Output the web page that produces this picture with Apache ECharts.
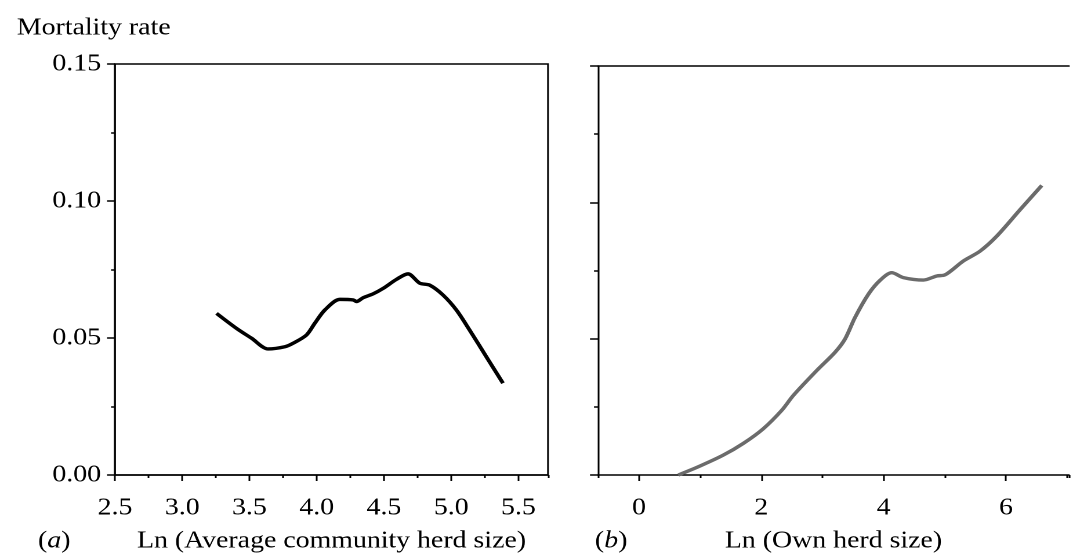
<!DOCTYPE html>
<html>
<head>
<meta charset="utf-8">
<script src="https://cdn.jsdelivr.net/npm/echarts@6/dist/echarts.min.js"></script>
<style>
html,body{margin:0;padding:0;background:#fff;overflow:hidden;}
#wrap{width:1071px;height:559px;overflow:hidden;}
#chart{height:559px;transform-origin:0 0;}
</style>
</head>
<body>
<div id="wrap"><div id="chart"></div></div>
<script>
// Panel (a): Ln(Average community herd size) vs mortality rate
var communityX = [3.255,3.404,3.516,3.639,3.763,3.825,3.924,3.986,4.060,4.172,4.271,4.296,4.345,4.419,4.494,4.593,4.679,4.766,4.840,4.939,5.039,5.137,5.261,5.385];
var communityY = [0.0590,0.0535,0.0499,0.0460,0.0468,0.0481,0.0511,0.0554,0.0602,0.0641,0.0639,0.0633,0.0647,0.0661,0.0681,0.0714,0.0734,0.0700,0.0693,0.0657,0.0602,0.0529,0.0432,0.0335];
// Panel (b): Ln(Own herd size) vs mortality rate
var ownX = [0.643,0.998,1.379,1.706,2.033,2.333,2.524,2.905,3.205,3.369,3.532,3.750,3.941,4.132,4.322,4.649,4.868,5.004,5.304,5.576,5.849,6.230,6.585];
var ownY = [0.0000,0.0033,0.0073,0.0116,0.0170,0.0237,0.0292,0.0383,0.0450,0.0499,0.0578,0.0663,0.0714,0.0742,0.0724,0.0715,0.0730,0.0734,0.0785,0.0821,0.0876,0.0973,0.1062];
var titleY = 'Mortality rate';
var nameA = 'Ln (Average community herd size)';
var nameB = 'Ln (Own herd size)';

function pairs(xs, ys){ return xs.map(function(x,i){return [x, ys[i]];}); }

// the reference figure is horizontally stretched; draw narrower and stretch
var S = 1.16;
function X(px){ return px / S; }
var el = document.getElementById('chart');
el.style.width = (1071 / S) + 'px';
el.style.transform = 'scaleX(' + S + ')';

var FONT = 'Liberation Serif';
var FS = 24;
var lineStyle = {color:'#000', width:1.5};

var chart = echarts.init(el, null, {renderer:'canvas', devicePixelRatio:2});
chart.setOption({
  backgroundColor:'#fff',
  animation:false,
  textStyle:{fontFamily:FONT},
  title:{text:titleY, left:X(11), top:11, textStyle:{fontFamily:FONT, fontSize:FS, fontWeight:'normal', color:'#000'}},
  graphic:[
    {type:'text', left:X(38), top:529, style:{text:'{n|(}{i|a}{n|)}', rich:{n:{fontFamily:FONT,fontSize:FS,fill:'#000'}, i:{fontFamily:FONT,fontSize:FS,fontStyle:'italic',fill:'#000'}}}},
    {type:'text', left:X(595), top:529, style:{text:'{n|(}{i|b}{n|)}', rich:{n:{fontFamily:FONT,fontSize:FS,fill:'#000'}, i:{fontFamily:FONT,fontSize:FS,fontStyle:'italic',fill:'#000'}}}}
  ],
  grid:[
    {left:X(115), top:64, width:X(433), height:411, show:true, borderColor:'#000', borderWidth:1.5, backgroundColor:'transparent'},
    {left:X(598), top:66, width:X(471), height:409}
  ],
  xAxis:[
    {gridIndex:0, type:'value', min:2.5, max:5.72, interval:0.5, position:'bottom',
     name:nameA, nameLocation:'middle', nameGap:54, nameTextStyle:{fontFamily:FONT,fontSize:FS,color:'#000'},
     axisLine:{show:true, lineStyle:lineStyle}, axisTick:{show:true, inside:false, length:6, lineStyle:lineStyle},
     axisLabel:{show:true, margin:21, fontFamily:FONT, fontSize:FS, color:'#000', showMaxLabel:false,
       formatter:function(v){return v.toFixed(1);}},
     splitLine:{show:false}},
    {gridIndex:0, type:'value', min:2.5, max:5.72, interval:0.25, position:'bottom',
     axisLine:{show:false}, axisTick:{show:true, length:3, lineStyle:lineStyle}, axisLabel:{show:false}, splitLine:{show:false}},
    {gridIndex:1, type:'value', min:-0.67, max:7.03, splitNumber:4, position:'bottom',
     name:nameB, nameLocation:'middle', nameGap:54, nameTextStyle:{fontFamily:FONT,fontSize:FS,color:'#000'},
     axisLine:{show:true, onZero:false, lineStyle:lineStyle}, axisTick:{show:true, length:6, lineStyle:lineStyle},
     axisLabel:{show:true, margin:21, fontFamily:FONT, fontSize:FS, color:'#000', showMinLabel:false, showMaxLabel:false},
     splitLine:{show:false}},
    {gridIndex:1, type:'value', min:-0.67, max:7.03, splitNumber:8, position:'bottom',
     axisLine:{show:false, onZero:false}, axisTick:{show:true, length:3, lineStyle:lineStyle}, axisLabel:{show:false}, splitLine:{show:false}},
    {gridIndex:1, type:'value', min:-0.67, max:7.03, position:'top',
     axisLine:{show:true, onZero:false, lineStyle:lineStyle}, axisTick:{show:false}, axisLabel:{show:false}, splitLine:{show:false}}
  ],
  yAxis:[
    {gridIndex:0, type:'value', min:0, max:0.15, interval:0.05,
     axisLine:{show:true, onZero:false, lineStyle:lineStyle}, axisTick:{show:true, length:X(8), lineStyle:lineStyle},
     minorTick:{show:true, splitNumber:2, length:X(4), lineStyle:lineStyle},
     axisLabel:{show:true, margin:X(14), fontFamily:FONT, fontSize:FS, color:'#000', formatter:function(v){return v.toFixed(2);}},
     splitLine:{show:false}, minorSplitLine:{show:false}},
    {gridIndex:1, type:'value', min:0, max:0.15, interval:0.05,
     axisLine:{show:true, onZero:false, lineStyle:lineStyle}, axisTick:{show:true, length:X(8), lineStyle:lineStyle},
     minorTick:{show:true, splitNumber:2, length:X(4), lineStyle:lineStyle},
     axisLabel:{show:false}, splitLine:{show:false}, minorSplitLine:{show:false}}
  ],
  series:[
    {type:'line', xAxisIndex:0, yAxisIndex:0, data:pairs(communityX, communityY), smooth:0.3, showSymbol:false,
     lineStyle:{color:'#000', width:3.4}},
    {type:'line', xAxisIndex:2, yAxisIndex:1, data:pairs(ownX, ownY), smooth:0.3, showSymbol:false,
     lineStyle:{color:'#6b6b6b', width:3.4}}
  ]
});
</script>
</body>
</html>
